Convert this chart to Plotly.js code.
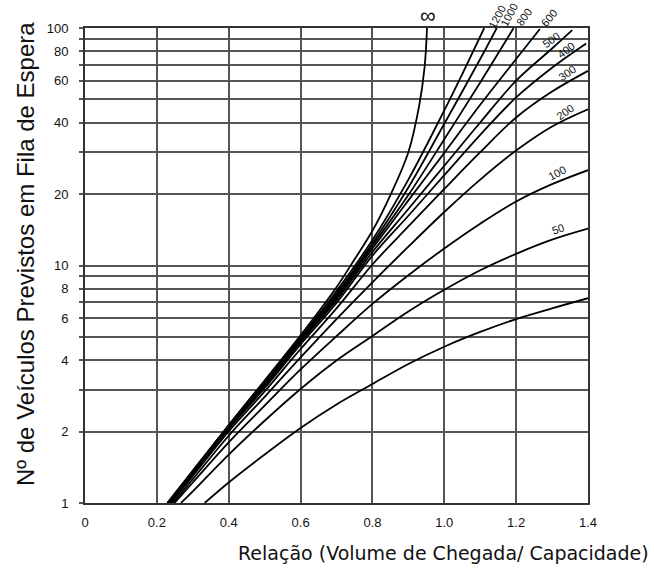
<!DOCTYPE html>
<html>
<head>
<meta charset="utf-8">
<script src="https://cdn.plot.ly/plotly-3.0.1.min.js"></script>
<style>html,body{margin:0;padding:0;background:#fff;}#chart{width:654px;height:568px;}</style>
</head>
<body>
<div id="chart"></div>
<script>
// ---- data ----
const xTickVals = [0, 0.2, 0.4, 0.6, 0.8, 1.0, 1.2, 1.4];
const xTickText = ['0', '0.2', '0.4', '0.6', '0.8', '1.0', '1.2', '1.4'];
const yTickVals = [1, 2, 3, 4, 5, 6, 7, 8, 9, 10, 20, 30, 40, 50, 60, 70, 80, 90, 100];
const yTickText = ['1', '2', '', '4', '', '6', '', '8', '', '10', '20', '', '40', '', '60', '', '80', '', '100'];

const curveNames = ['∞', '1200', '1000', '800', '600', '500', '400', '300', '200', '100', '50', ''];

const xInf = [0.229, 0.3, 0.4, 0.5, 0.6, 0.7, 0.75, 0.8, 0.85, 0.9, 0.93, 0.945, 0.952];
const yInf = [1, 1.37, 2.13, 3.28, 5.08, 8.1, 10.6, 14, 19.8, 30, 47, 68, 100];

const x1200 = [0.23, 0.3, 0.4, 0.5, 0.6, 0.7, 0.8, 0.9, 1.0, 1.05, 1.111];
const y1200 = [1, 1.36, 2.12, 3.25, 4.98, 7.8, 12.8, 23, 45, 64, 100];

const x1000 = [0.231, 0.3, 0.4, 0.5, 0.6, 0.7, 0.8, 0.9, 1.0, 1.1, 1.146];
const y1000 = [1, 1.35, 2.11, 3.22, 4.93, 7.6, 12.4, 21.3, 39.5, 74, 100];

const x800 = [0.232, 0.3, 0.4, 0.5, 0.6, 0.7, 0.8, 0.9, 1.0, 1.1, 1.193];
const y800 = [1, 1.345, 2.1, 3.19, 4.88, 7.45, 12.1, 19.8, 34, 59, 100];

const x600 = [0.234, 0.3, 0.4, 0.5, 0.6, 0.7, 0.8, 0.9, 1.0, 1.1, 1.2, 1.266];
const y600 = [1, 1.34, 2.08, 3.15, 4.82, 7.3, 11.8, 18.8, 29.8, 47.5, 74, 99];

const x500 = [0.235, 0.3, 0.4, 0.5, 0.6, 0.7, 0.8, 0.9, 1.0, 1.1, 1.2, 1.3, 1.356];
const y500 = [1, 1.33, 2.06, 3.1, 4.75, 7.15, 11.4, 17.3, 26.3, 40, 60, 82, 98];

const x400 = [0.237, 0.3, 0.4, 0.5, 0.6, 0.7, 0.8, 0.9, 1.0, 1.1, 1.2, 1.3, 1.395];
const y400 = [1, 1.32, 2.04, 3.05, 4.65, 6.95, 11.0, 16.2, 24, 35.5, 51, 68, 86];

const x300 = [0.24, 0.3, 0.4, 0.5, 0.6, 0.7, 0.8, 0.9, 1.0, 1.1, 1.2, 1.3, 1.4];
const y300 = [1, 1.3, 2.0, 2.95, 4.45, 6.6, 10.1, 14.6, 21, 30, 42, 54, 66];

const x200 = [0.245, 0.3, 0.4, 0.5, 0.6, 0.7, 0.8, 0.9, 1.0, 1.1, 1.2, 1.3, 1.4];
const y200 = [1, 1.26, 1.92, 2.8, 4.1, 5.95, 8.5, 12, 16.8, 23, 30.5, 38.5, 45.5];

const x100 = [0.249, 0.3, 0.4, 0.5, 0.6, 0.7, 0.8, 0.9, 1.0, 1.1, 1.2, 1.3, 1.4];
const y100 = [1, 1.22, 1.8, 2.57, 3.65, 5.04, 6.89, 9.1, 11.8, 15.0, 18.6, 22.0, 25.2];

const x50 = [0.267, 0.3, 0.4, 0.5, 0.6, 0.7, 0.8, 0.9, 1.0, 1.1, 1.2, 1.3, 1.4];
const y50 = [1, 1.12, 1.6, 2.22, 3.02, 3.98, 5.05, 6.4, 7.9, 9.55, 11.2, 12.85, 14.3];

const xLow = [0.333, 0.4, 0.5, 0.6, 0.7, 0.8, 0.9, 1.0, 1.1, 1.2, 1.3, 1.4];
const yLow = [1, 1.22, 1.6, 2.07, 2.6, 3.17, 3.85, 4.55, 5.25, 5.95, 6.6, 7.28];

// ---- build traces ----
const series = [
  [xInf, yInf], [x1200, y1200], [x1000, y1000], [x800, y800], [x600, y600],
  [x500, y500], [x400, y400], [x300, y300], [x200, y200], [x100, y100],
  [x50, y50], [xLow, yLow]
];
const traces = series.map((s, i) => ({
  type: 'scatter', mode: 'lines', x: s[0], y: s[1], name: curveNames[i],
  line: {color: '#000', width: 1.8, shape: 'spline', smoothing: 1.0},
  hoverinfo: 'skip', showlegend: false, cliponaxis: false
}));

// ---- layout ----
const L = 85, R = 66, T = 28, B = 65, W = 654, H = 568;
const pw = W - L - R, ph = H - T - B;
const px = p => (p - L) / pw;
const py = p => (H - B - p) / ph;

const labelSpecs = [
  // [text, pixel x, pixel y, angle, size]
  ['∞', 428, 15, 0, 22],
  ['1200', 497, 17, -62, 11],
  ['1000', 509, 15, -62, 11],
  ['800', 524, 17, -55, 11],
  ['600', 549, 18, -50, 11],
  ['500', 551, 40, -35, 11],
  ['400', 566, 50, -38, 11],
  ['300', 567, 73, -35, 11],
  ['200', 565, 112, -35, 11],
  ['100', 557, 173, -28, 11],
  ['50', 558, 229, -18, 11]
];
const annotations = labelSpecs.map(s => ({
  text: s[0], xref: 'paper', yref: 'paper', x: px(s[1]), y: py(s[2]),
  xanchor: 'center', yanchor: 'middle', showarrow: false, textangle: s[3],
  font: {family: 'Liberation Sans, Arial, sans-serif', size: s[4], color: '#111'}
}));
annotations.push({
  text: 'Nº de Veículos Previstos em Fila de Espera', xref: 'paper', yref: 'paper',
  x: px(25), y: py(254), xanchor: 'center', yanchor: 'middle', showarrow: false,
  textangle: -90, font: {family: 'Liberation Sans, Arial, sans-serif', size: 24, color: '#111'}
});
annotations.push({
  text: 'Relação (Volume de Chegada/ Capacidade)', xref: 'paper', yref: 'paper',
  x: px(651), y: py(553), xanchor: 'right', yanchor: 'middle', showarrow: false,
  font: {family: 'DejaVu Sans, sans-serif', size: 19, color: '#111'}
});

const layout = {
  width: W, height: H,
  margin: {l: L, r: R, t: T, b: B, pad: 0},
  paper_bgcolor: '#fff', plot_bgcolor: '#fff',
  showlegend: false,
  xaxis: {
    range: [0, 1.4], tickmode: 'array', tickvals: xTickVals, ticktext: xTickText,
    showgrid: true, gridcolor: '#555', gridwidth: 2, zeroline: false,
    showline: true, linecolor: '#333', linewidth: 2, mirror: true,
    ticks: '', ticklabelstandoff: 6,
    tickfont: {family: 'Liberation Sans, Arial, sans-serif', size: 13, color: '#111'},
    fixedrange: true
  },
  yaxis: {
    type: 'log', range: [0, 2], tickmode: 'array', tickvals: yTickVals, ticktext: yTickText,
    showgrid: true, gridcolor: '#555', gridwidth: 2, zeroline: false,
    showline: true, linecolor: '#333', linewidth: 2, mirror: true,
    ticks: 'outside', ticklen: 4, tickcolor: '#555', tickwidth: 2, ticklabelstandoff: 8,
    tickfont: {family: 'Liberation Sans, Arial, sans-serif', size: 13, color: '#111'},
    fixedrange: true
  },
  annotations: annotations
};

Plotly.newPlot('chart', traces, layout, {staticPlot: true, displayModeBar: false});
</script>
</body>
</html>
